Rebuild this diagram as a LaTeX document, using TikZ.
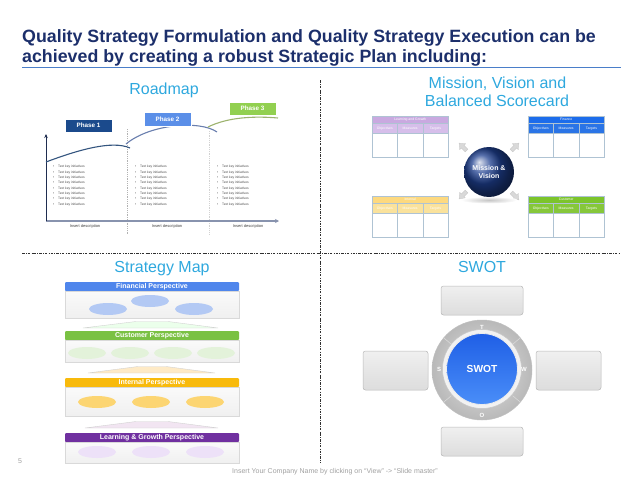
\documentclass[tikz,border=0pt]{standalone}
\usepackage{fontspec}
\setmainfont{Liberation Sans}
\usetikzlibrary{shapes.geometric,arrows.meta,calc}
\definecolor{titlenavy}{HTML}{1C2F6B}
\definecolor{ulblue}{HTML}{4A7EC9}
\definecolor{headcyan}{HTML}{2EA8DE}
\definecolor{ph1}{HTML}{1B4A8C}
\definecolor{ph2}{HTML}{5B8FE8}
\definecolor{ph3}{HTML}{92D050}
\definecolor{cv1}{HTML}{34557F}
\definecolor{cv2}{HTML}{6A7FAE}
\definecolor{cv3}{HTML}{9DB36E}
\definecolor{yaxisc}{HTML}{1F2D50}
\definecolor{xaxisc}{HTML}{8893AE}
\definecolor{bscborder}{HTML}{AFC3D3}
\definecolor{lgh}{HTML}{C9A9E0}
\definecolor{lgs}{HTML}{D6BEEA}
\definecolor{fnh}{HTML}{1C6CEB}
\definecolor{fns}{HTML}{2A74E6}
\definecolor{inh}{HTML}{FDD97F}
\definecolor{ins}{HTML}{FAE29C}
\definecolor{cuh}{HTML}{7CC42C}
\definecolor{cus}{HTML}{86C73A}
\definecolor{sphere}{HTML}{1E3F8F}
\definecolor{smfin}{HTML}{4F86EC}
\definecolor{smcus}{HTML}{7AC143}
\definecolor{smint}{HTML}{F8BA0C}
\definecolor{smlg}{HTML}{7030A0}
\definecolor{elfin}{HTML}{B3C9F4}
\definecolor{elcus}{HTML}{E3F2DA}
\definecolor{elint}{HTML}{FCD572}
\definecolor{ellg}{HTML}{EDE1F8}
\definecolor{swblue}{HTML}{1F5FE6}
\definecolor{swblue2}{HTML}{4A8EF8}
\definecolor{footgray}{HTML}{A0A0A0}
\definecolor{divc}{HTML}{303030}

\newcommand{\bsc}[7]{%
  \node[bschdr, fill=#4, text=#7, anchor=north west] (#1h) at (#2,#3) {#6};
  \node[bscsub, fill=#5, text=#7, anchor=north west] (#1a) at (#2,#3+7) {Objectives};
  \node[bscsub, fill=#5, text=#7, anchor=north west] (#1b) at (#2+25.33,#3+7) {Measures};
  \node[bscsub, fill=#5, text=#7, anchor=north west] (#1c) at (#2+50.67,#3+7) {Targets};
  \node[bscbody, anchor=north west] (#1d) at (#2,#3+17) {};
  \node[bscbody, anchor=north west] (#1e) at (#2+25.33,#3+17) {};
  \node[bscbody, anchor=north west] (#1f) at (#2+50.67,#3+17) {};
}
\newcommand{\grayarrow}[3]{%
  \filldraw[fill=gray!30, draw=gray!45, line width=0.3pt, shift={(#1,#2)}, rotate=#3]
    (-5,-1.8) -- (0.5,-1.8) -- (0.5,-4.2) -- (5.5,0) -- (0.5,4.2) -- (0.5,1.8) -- (-5,1.8) -- cycle;
}
\newcommand{\smrow}[5]{%
  \node[smhdr, fill=#4, anchor=north] (#1h) at (152,#2) {#5};
  \node[smbody, minimum height=#3, anchor=north] (#1b) at (152,#2+9) {};
}

\begin{document}
\begin{tikzpicture}[x=1pt,y=-1pt,
  titlef/.style={anchor=base west, inner sep=0, text=titlenavy, font=\fontsize{17.8}{19}\selectfont\bfseries},
  head/.style={anchor=base, inner sep=0, text=headcyan, font=\fontsize{16}{19}\selectfont},
  divider/.style={divc, line width=0.7pt, dash pattern={on 2.5pt off 1.3pt on 0.6pt off 1.3pt}},
  phase/.style={minimum width=47pt, minimum height=13.5pt, inner sep=0, text=white, font=\fontsize{6.3}{7}\selectfont\bfseries, draw=white, line width=0.4pt},
  bul/.style={anchor=west, inner sep=0, text=black!70, font=\fontsize{3.3}{4}\selectfont},
  desc/.style={inner sep=0, text=black!75, font=\fontsize{4}{5}\selectfont},
  bschdr/.style={minimum width=76pt, minimum height=7pt, inner sep=0, draw=bscborder, line width=0.4pt, font=\fontsize{3.4}{4}\selectfont},
  bscsub/.style={minimum width=25.33pt, minimum height=10pt, inner sep=0, draw=bscborder, line width=0.4pt, font=\fontsize{3.4}{4}\selectfont},
  bscbody/.style={minimum width=25.33pt, minimum height=24pt, inner sep=0, fill=white, draw=bscborder, line width=0.5pt},
  smhdr/.style={minimum width=174pt, minimum height=9pt, inner sep=0, text=white, rounded corners=1pt, font=\fontsize{7}{8}\selectfont\bfseries},
  smbody/.style={minimum width=174pt, inner sep=0, top color=gray!4, bottom color=gray!12, draw=gray!30, line width=0.4pt},
  smell/.style={ellipse, minimum width=38pt, minimum height=12pt, inner sep=0},
  roof/.style={draw=gray!35, line width=0.4pt},
  swbox/.style={rounded corners=2.5pt, top color=gray!12, bottom color=gray!27, draw=gray!55, line width=0.5pt},
  swl/.style={inner sep=0, text=white, font=\fontsize{6}{7}\selectfont\bfseries},
  foot/.style={inner sep=0, text=footgray, font=\fontsize{7}{8}\selectfont}
]
\useasboundingbox (0,0) rectangle (638,479);

% ---------- title ----------
\node[titlef] (t1) at (22,42) {Quality Strategy Formulation and Quality Strategy Execution can be};
\node[titlef] (t2) at (22,62) {achieved by creating a robust Strategic Plan including:};
\coordinate (ul1) at (22,67.5);
\coordinate (ul2) at (621,67.5);
\draw[ulblue, line width=1.4pt] (ul1) -- (ul2);

% ---------- dividers ----------
\coordinate (dv1) at (320,80);
\coordinate (dv2) at (320,462);
\coordinate (dh1) at (22,253);
\coordinate (dh2) at (620,253);
\draw[divider] (dv1) -- (dv2);
\draw[divider] (dh1) -- (dh2);

% ---------- headings ----------
\node[head] (hrm) at (164,94) {Roadmap};
\node[head] (hmv1) at (497.5,88.3) {Mission, Vision and};
\node[head] (hmv2) at (497,106.7) {Balanced Scorecard};
\node[head] (hsm) at (162,272.3) {Strategy Map};
\node[head] (hsw) at (482,272.3) {SWOT};

% ---------- roadmap ----------
\coordinate (yo) at (46,221);
\coordinate (ytop) at (46,134);
\coordinate (xend) at (279,221);
\coordinate (g1a) at (127,129);
\coordinate (g1b) at (127,234);
\coordinate (g2a) at (209,131);
\coordinate (g2b) at (209,234);
\draw[gray!60, line width=0.5pt, dash pattern={on 0.8pt off 1pt}] (g1a) -- (g1b);
\draw[gray!35, line width=0.5pt, dash pattern={on 0.8pt off 1pt}] (g2a) -- (g2b);
\draw[xaxisc, line width=1.6pt, -{Stealth[length=4pt,width=4pt]}] (yo) -- (xend);
\draw[yaxisc, line width=0.9pt, -{Stealth[length=4pt,width=3.5pt]}] (yo) -- (ytop);

\coordinate (c1s) at (46,162);
\coordinate (c1e) at (130,148);
\coordinate (c2s) at (126,144);
\coordinate (c2e) at (217,132);
\coordinate (c3s) at (208,127);
\coordinate (c3e) at (278,118);
\draw[cv1, line width=1.1pt] (c1s) .. controls (78,150) and (112,140) .. (c1e);
\draw[cv2, line width=1.1pt] (c2s) .. controls (150,124) and (200,120) .. (c2e);
\draw[cv3, line width=1.1pt] (c3s) .. controls (228,117) and (255,116) .. (c3e);

\node[phase, fill=ph1] (p1) at (88.5,125.5) {Phase 1};
\node[phase, fill=ph2] (p2) at (167.5,119) {Phase 2};
\node[phase, fill=ph3] (p3) at (252.5,108.5) {Phase 3};

\foreach \cx [count=\k] in {53,135,217}{
  \foreach \i in {0,...,7}{
    \node[bul] (bl\k-\i) at (\cx,167+\i*5.35) {\textbullet\hspace{3.8pt}Text key initiatives};
  }
}
\node[desc] (d1) at (85,226.5) {Insert description};
\node[desc] (d2) at (167,226.5) {Insert description};
\node[desc] (d3) at (248,226.5) {Insert description};

% ---------- mission / scorecard ----------
\bsc{lg}{372}{116}{lgh}{lgs}{Learning and Growth}{white}
\bsc{fn}{528}{116}{fnh}{fns}{Finance}{white}
\bsc{in}{372}{196}{inh}{ins}{Internal}{white}
\bsc{cu}{528}{196}{cuh}{cus}{Customer}{white}

\grayarrow{463}{147}{135}
\grayarrow{515}{147}{45}
\grayarrow{463}{195}{225}
\grayarrow{515}{196}{315}

\node[ellipse, minimum width=56pt, minimum height=7pt, inner sep=0, inner color=gray!45, outer color=white] (mvsh) at (489,200) {};
\node[circle, minimum size=50pt, inner sep=0, ball color=sphere, text=white, align=center,
      font=\fontsize{7}{8.2}\selectfont\bfseries] (mv) at (489,172) {Mission \&\\Vision};

% ---------- strategy map ----------
\smrow{fin}{282}{27pt}{smfin}{Financial Perspective}
\node[smell, fill=elfin] (ef1) at (108,309) {};
\node[smell, fill=elfin] (ef2) at (150,301) {};
\node[smell, fill=elfin] (ef3) at (194,309) {};
\coordinate (r1a) at (83,328);
\coordinate (r1b) at (136,321.5);
\coordinate (r1c) at (168,321.5);
\coordinate (r1d) at (218,328);
\filldraw[roof, fill=green!8] (r1a) -- (r1b) -- (r1c) -- (r1d) -- cycle;

\smrow{cus}{331}{22pt}{smcus}{Customer Perspective}
\node[smell, fill=elcus] (ec1) at (87,353) {};
\node[smell, fill=elcus] (ec2) at (130,353) {};
\node[smell, fill=elcus] (ec3) at (173,353) {};
\node[smell, fill=elcus] (ec4) at (216,353) {};
\coordinate (r2a) at (88,373);
\coordinate (r2b) at (138,366.5);
\coordinate (r2c) at (166,366.5);
\coordinate (r2d) at (215,373);
\filldraw[roof, fill=yellow!25!orange!20] (r2a) -- (r2b) -- (r2c) -- (r2d) -- cycle;

\smrow{int}{378}{29pt}{smint}{Internal Perspective}
\node[smell, fill=elint] (ei1) at (97,402) {};
\node[smell, fill=elint] (ei2) at (151,402) {};
\node[smell, fill=elint] (ei3) at (205,402) {};
\coordinate (r3a) at (85,428);
\coordinate (r3b) at (136,421.5);
\coordinate (r3c) at (168,421.5);
\coordinate (r3d) at (218,428);
\filldraw[roof, fill=violet!10] (r3a) -- (r3b) -- (r3c) -- (r3d) -- cycle;

\smrow{lgp}{433}{21pt}{smlg}{Learning \& Growth Perspective}
\node[smell, fill=ellg] (el1) at (97,452) {};
\node[smell, fill=ellg] (el2) at (151,452) {};
\node[smell, fill=ellg] (el3) at (205,452) {};

% ---------- SWOT ----------
\node[swbox, minimum width=82pt, minimum height=29pt, inner sep=0] (sT) at (482,300.5) {};
\node[swbox, minimum width=65pt, minimum height=39pt, inner sep=0] (sS) at (395.5,370.5) {};
\node[swbox, minimum width=65pt, minimum height=39pt, inner sep=0] (sW) at (568.5,370.5) {};
\node[swbox, minimum width=82pt, minimum height=29pt, inner sep=0] (sO) at (482,441.5) {};

\node[circle, minimum size=100pt, inner sep=0, draw=gray!50, line width=0.5pt,
      inner color=gray!22, outer color=gray!55] (ring) at (482,370) {};
\foreach \a in {40,140,220,320}{
  \draw[white!70!gray, line width=0.6pt] ($(ring.center)+(\a:40)$) -- ($(ring.center)+(\a:49.5)$);
}
\node[circle, minimum size=79pt, inner sep=0, fill=gray!10, draw=gray!45, line width=0.5pt] (ringin) at (482,369) {};
\node[circle, minimum size=71pt, inner sep=0, top color=swblue, bottom color=swblue2, draw=white!85!gray, line width=0.8pt,
      text=white, font=\fontsize{10.2}{12}\selectfont\bfseries] (swc) at (482,369) {SWOT};
\node[swl] (lT) at (482,327.5) {T};
\node[swl] (lS) at (439,369) {S};
\node[swl] (lW) at (524,369) {W};
\node[swl] (lO) at (482,415) {O};

% ---------- footer ----------
\node[foot] (pg) at (20,461) {5};
\node[foot] (ft) at (335,472) {Insert Your Company Name by clicking on ``View'' -> ``Slide master''};
\end{tikzpicture}
\end{document}
